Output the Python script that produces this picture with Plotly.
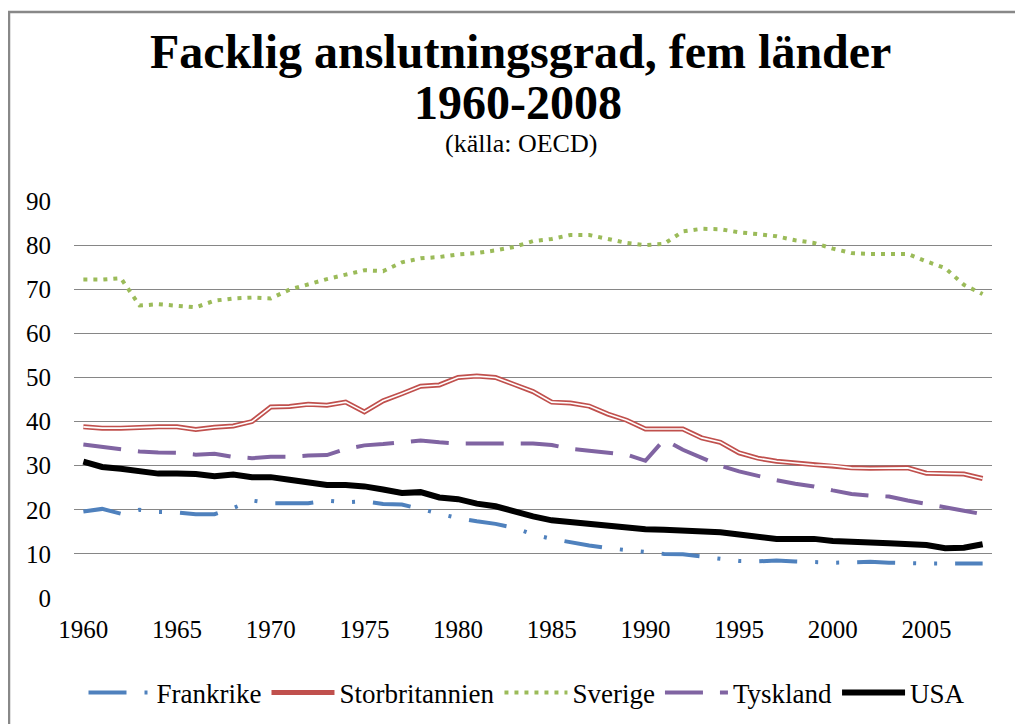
import plotly.graph_objects as go

years = list(range(1960, 2009))

frankrike = [19.6, 20.2, 19.1, 20.0, 19.5, 19.4, 19.0, 19.0, 20.4, 22.1,
             21.5, 21.5, 21.5, 22.1, 21.7, 21.9, 21.3, 21.2, 20.2, 19.0,
             18.1, 17.4, 16.8, 15.9, 14.4, 13.4, 12.6, 11.9, 11.3, 10.8,
             10.3, 10.0, 9.9, 9.4, 8.8, 8.4, 8.3, 8.5, 8.3, 8.1,
             8.0, 8.1, 8.2, 8.0, 7.8, 7.8, 7.8, 7.8, 7.8]

storbritannien = [38.8, 38.5, 38.5, 38.7, 38.8, 38.8, 38.2, 38.7, 39.0, 40.0,
                  43.3, 43.4, 43.9, 43.7, 44.4, 42.2, 44.7, 46.3, 48.0, 48.3,
                  50.0, 50.3, 50.0, 48.4, 46.8, 44.4, 44.2, 43.5, 41.7, 40.3,
                  38.3, 38.3, 38.3, 36.3, 35.3, 32.9, 31.7, 31.0, 30.6, 30.2,
                  30.0, 29.5, 29.4, 29.5, 29.5, 28.3, 28.2, 28.1, 27.1]

sverige = [72.2, 72.2, 72.5, 66.3, 66.6, 66.3, 65.9, 67.4, 67.9, 68.1,
           67.9, 69.9, 71.2, 72.3, 73.3, 74.3, 74.1, 76.1, 77.0, 77.3,
           77.9, 78.2, 78.8, 79.6, 80.9, 81.4, 82.3, 82.3, 81.4, 80.5,
           80.0, 80.3, 83.1, 83.7, 83.6, 82.9, 82.5, 82.0, 81.1, 80.5,
           79.2, 78.2, 78.0, 78.0, 78.0, 76.3, 74.8, 71.0, 68.9]

tyskland = [34.8, 34.2, 33.8, 33.2, 33.0, 32.9, 32.5, 32.7, 32.0, 31.7,
            32.0, 32.0, 32.3, 32.4, 33.8, 34.6, 34.9, 35.3, 35.7, 35.3,
            35.0, 35.0, 35.0, 35.0, 35.0, 34.7, 33.8, 33.4, 33.0, 32.5,
            31.1, 35.9, 33.6, 31.7, 30.0, 28.7, 27.6, 26.7, 25.9, 25.3,
            24.4, 23.6, 23.2, 23.0, 22.1, 21.4, 20.6, 19.8, 19.0]

usa = [30.9, 29.7, 29.3, 28.7, 28.2, 28.2, 28.1, 27.6, 28.0, 27.4,
       27.4, 26.8, 26.2, 25.6, 25.6, 25.3, 24.6, 23.8, 24.0, 22.8,
       22.4, 21.4, 20.8, 19.6, 18.5, 17.6, 17.2, 16.6, 16.2, 15.9,
       15.6, 15.5, 15.3, 15.3, 14.9, 14.4, 14.0, 13.4, 13.4, 13.4,
       12.9, 12.9, 12.6, 12.4, 12.1, 12.0, 11.3, 11.4, 12.2]

x_ticks = [1960, 1965, 1970, 1975, 1980, 1985, 1990, 1995, 2000, 2005]
y_ticks = [0, 10, 20, 30, 40, 50, 60, 70, 80, 90]

title_line1 = "Facklig anslutningsgrad, fem länder"
title_line2 = "1960-2008"
subtitle = "(källa: OECD)"

SERIF = "Liberation Serif, Tinos, Times New Roman, Times, DejaVu Serif, serif"

# page body has an 8px margin; work in screen pixels and convert
OFF = 8
W, H = 1023 - OFF, 724 - OFF
plot_left, plot_right, plot_top, plot_bottom = 74, 992, 201, 598  # screen px
ml = plot_left - OFF
mr = W - (plot_right - OFF)
mt = plot_top - OFF
mb = H - (plot_bottom - OFF)
pw = W - ml - mr
ph = H - mt - mb


def px(sx):
    return (sx - OFF - ml) / pw


def py(sy):
    return (H - mb - (sy - OFF)) / ph


fig = go.Figure()

fig.add_trace(go.Scatter(
    x=years, y=frankrike, name="Frankrike", mode="lines",
    line=dict(color="#4F81BD", width=4, dash="38px,18px,3px,18px,3px,18px"),
))
fig.add_trace(go.Scatter(
    x=years, y=storbritannien, name="Storbritannien", mode="lines",
    legendgroup="sb",
    line=dict(color="#C0504D", width=5),
))
fig.add_trace(go.Scatter(
    x=years, y=storbritannien, name="Storbritannien", mode="lines",
    legendgroup="sb", showlegend=False, hoverinfo="skip",
    line=dict(color="#FFFFFF", width=1.6),
))
fig.add_trace(go.Scatter(
    x=years, y=sverige, name="Sverige", mode="lines",
    line=dict(color="#9BBB59", width=4, dash="4px,6px"),
))
fig.add_trace(go.Scatter(
    x=years, y=tyskland, name="Tyskland", mode="lines",
    line=dict(color="#8064A2", width=4, dash="38px,17px"),
))
fig.add_trace(go.Scatter(
    x=years, y=usa, name="USA", mode="lines",
    line=dict(color="#000000", width=6),
))

fig.update_layout(
    width=W, height=H,
    margin=dict(l=ml, r=mr, t=mt, b=mb, autoexpand=False),
    paper_bgcolor="white", plot_bgcolor="white",
    font=dict(family=SERIF, color="black", size=25),
    showlegend=True,
    legend=dict(
        orientation="h", x=px(527), xanchor="center",
        y=py(693), yanchor="middle",
        font=dict(family=SERIF, size=27, color="black"),
        itemwidth=63, tracegroupgap=0,
        bgcolor="rgba(0,0,0,0)",
    ),
    xaxis=dict(
        range=[1959.5, 2008.5], tickmode="array", tickvals=x_ticks,
        ticktext=[str(t) for t in x_ticks],
        showgrid=False, zeroline=False, showline=False, ticks="",
        tickfont=dict(family=SERIF, size=25, color="black"), ticklabelstandoff=14,
    ),
    yaxis=dict(
        range=[0, 90], tickmode="array", tickvals=y_ticks,
        ticktext=[str(t) for t in y_ticks],
        showgrid=True, gridcolor="#868686", gridwidth=1,
        zeroline=False, showline=False, ticks="",
        tickfont=dict(family=SERIF, size=25, color="black"), ticklabelstandoff=22,
    ),
    annotations=[
        dict(text="<b>" + title_line1 + "</b>", xref="paper", yref="paper",
             x=px(520), y=py(51.5), xanchor="center", yanchor="middle",
             showarrow=False, font=dict(family=SERIF, size=48, color="black")),
        dict(text="<b>" + title_line2 + "</b>", xref="paper", yref="paper",
             x=px(518), y=py(102.5), xanchor="center", yanchor="middle",
             showarrow=False, font=dict(family=SERIF, size=48, color="black")),
        dict(text=subtitle, xref="paper", yref="paper",
             x=px(521), y=py(144), xanchor="center", yanchor="middle",
             showarrow=False, font=dict(family=SERIF, size=26, color="black")),
    ],
    shapes=[
        dict(type="rect", xref="paper", yref="paper",
             x0=px(9), x1=px(1060), y0=py(760), y1=py(12),
             line=dict(color="#888888", width=2.5), fillcolor="rgba(0,0,0,0)", layer="below"),
    ],
)

fig.write_html("out.html")
